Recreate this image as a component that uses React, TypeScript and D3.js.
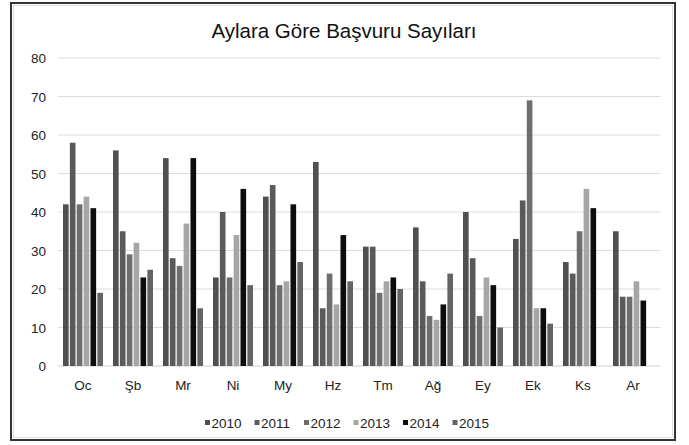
import React from "react";
import * as d3 from "d3";

const months = ["Oc", "Şb", "Mr", "Ni", "My", "Hz", "Tm", "Ağ", "Ey", "Ek", "Ks", "Ar"];
const years = ["2010", "2011", "2012", "2013", "2014", "2015"];
const s2010 = [42, 56, 54, 23, 44, 53, 31, 36, 40, 33, 27, 35];
const s2011 = [58, 35, 28, 40, 47, 15, 31, 22, 28, 43, 24, 18];
const s2012 = [42, 29, 26, 23, 21, 24, 19, 13, 13, 69, 35, 18];
const s2013 = [44, 32, 37, 34, 22, 16, 22, 12, 23, 15, 46, 22];
const s2014 = [41, 23, 54, 46, 42, 34, 23, 16, 21, 15, 41, 17];
const s2015 = [19, 25, 15, 21, 27, 22, 20, 24, 10, 11, null, null];
const yTicks = [0, 10, 20, 30, 40, 50, 60, 70, 80];
const colors = ["#505050", "#5a5a5a", "#6e6e6e", "#a6a6a6", "#0d0d0d", "#646464"];

const series = [s2010, s2011, s2012, s2013, s2014, s2015];

export default function App() {
  const W = 689, H = 445;
  const x = d3.scaleBand<string>().domain(months).range([58, 658]).paddingInner(0.2).paddingOuter(0.1);
  const x0 = d3.scaleBand<string>().domain(months).range([58, 658]);
  const xi = d3.scaleBand<string>().domain(years).range([0, x.bandwidth()]).paddingInner(0.18);
  const y = d3.scaleLinear().domain([0, 80]).range([366, 58]);
  const font = "Liberation Sans, Arial, sans-serif";
  return (
    <svg width={W} height={H} style={{ position: "absolute", left: 0, top: 0 }} fontFamily={font}>
      <rect x={0} y={0} width={W} height={H} fill="#fff" />
      <rect x={11} y={3} width={664} height={437} fill="none" stroke="#333" strokeWidth={2} />
      <rect x={13.5} y={5.5} width={659} height={432} fill="none" stroke="#ddd" strokeWidth={1} />
      <text x={344} y={38} textAnchor="middle" fontSize={20.5} fill="#111">Aylara Göre Başvuru Sayıları</text>
      {yTicks.map((t) => (
        <g key={t}>
          {t > 0 && <line x1={58} x2={660} y1={y(t)} y2={y(t)} stroke="#dcdcdc" strokeWidth={1} />}
          <text x={46} y={y(t) + 5} textAnchor="end" fontSize={13.5} fill="#222">{t}</text>
        </g>
      ))}
      <line x1={58} x2={660} y1={y(0)} y2={y(0)} stroke="#cfcfcf" strokeWidth={1} />
      {series.map((s, si) =>
        s.map((v, mi) =>
          v == null ? null : (
            <rect
              key={si + "-" + mi}
              x={(x(months[mi]) as number) + (xi(years[si]) as number)}
              y={y(v)}
              width={xi.bandwidth()}
              height={y(0) - y(v)}
              fill={colors[si]}
            />
          )
        )
      )}
      {months.map((m) => (
        <text key={m} x={(x0(m) as number) + x0.bandwidth() / 2} y={390} textAnchor="middle" fontSize={13.5} fill="#222">{m}</text>
      ))}
      {years.map((yr, i) => (
        <g key={yr} transform={`translate(${205 + i * 49.5},0)`}>
          <rect x={0} y={420} width={5} height={5} fill={colors[i]} />
          <text x={6.5} y={427.5} fontSize={13.5} fill="#222">{yr}</text>
        </g>
      ))}
    </svg>
  );
}
